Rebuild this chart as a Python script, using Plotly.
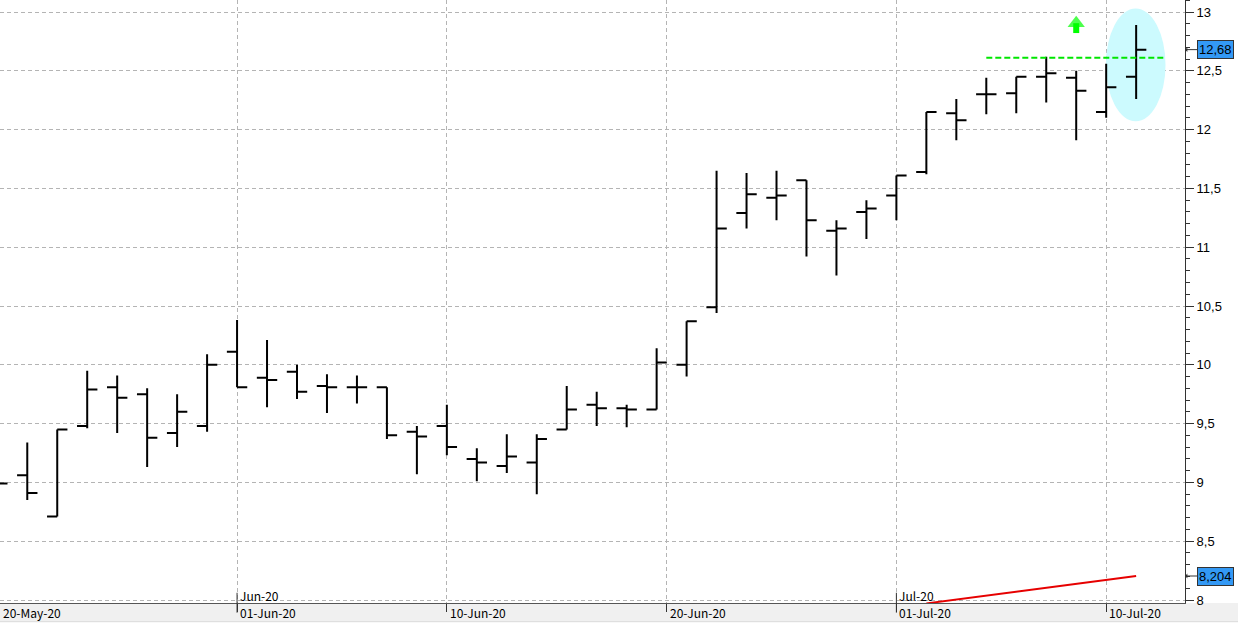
import plotly.graph_objects as go

# trading days (index 0..38), 20-May-20 .. 13-Jul-20
dates = ["20-May", "21-May", "22-May", "25-May", "26-May", "27-May", "28-May", "29-May",
         "01-Jun", "02-Jun", "03-Jun", "04-Jun", "05-Jun", "08-Jun", "09-Jun", "10-Jun",
         "11-Jun", "12-Jun", "15-Jun", "16-Jun", "17-Jun", "18-Jun", "19-Jun", "22-Jun",
         "23-Jun", "24-Jun", "25-Jun", "26-Jun", "29-Jun", "30-Jun", "01-Jul", "02-Jul",
         "03-Jul", "06-Jul", "07-Jul", "08-Jul", "09-Jul", "10-Jul", "13-Jul"]

opens = [9.05, 9.06, 8.71, 9.48, 9.81, 9.75, 9.42, 9.48, 10.11, 9.89, 9.94, 9.82, 9.81,
         9.81, 9.43, 9.48, 9.20, 9.14, 9.17, 9.45, 9.66, 9.63, 9.62, 10.00, 10.49, 11.29,
         11.42, 11.57, 11.14, 11.30, 11.44, 11.64, 12.14, 12.30, 12.31, 12.45, 12.44, 12.15, 12.45]
highs = [9.10, 9.34, 9.45, 9.95, 9.91, 9.80, 9.75, 10.09, 10.38, 10.21, 10.00, 9.92, 9.91,
         9.81, 9.48, 9.66, 9.29, 9.41, 9.41, 9.82, 9.77, 9.66, 10.14, 10.37, 11.65, 11.63,
         11.65, 11.57, 11.23, 11.40, 11.61, 12.15, 12.26, 12.44, 12.45, 12.62, 12.50, 12.56, 12.89]
lows = [8.96, 8.85, 8.71, 9.46, 9.42, 9.13, 9.30, 9.43, 9.81, 9.64, 9.71, 9.59, 9.67,
        9.37, 9.07, 9.23, 9.01, 9.08, 8.90, 9.45, 9.48, 9.47, 9.62, 9.90, 10.44, 11.16,
        11.23, 10.92, 10.76, 11.07, 11.23, 11.62, 11.91, 12.13, 12.14, 12.23, 11.91, 12.10, 12.26]
closes = [8.99, 8.91, 9.45, 9.79, 9.72, 9.38, 9.60, 10.00, 9.81, 9.87, 9.77, 9.81, 9.81,
          9.40, 9.39, 9.30, 9.17, 9.22, 9.37, 9.62, 9.63, 9.62, 10.02, 10.37, 11.16, 11.45,
          11.44, 11.23, 11.16, 11.33, 11.61, 12.15, 12.08, 12.30, 12.45, 12.48, 12.33, 12.36, 12.68]

# date axis: positions (in trading-day index) and labels
tick_pos = [0, 8, 15, 22.333, 30, 37]
tick_text = ["20-May-20", "01-Jun-20", "10-Jun-20", "20-Jun-20", "01-Jul-20", "10-Jul-20"]
month_pos = [8, 30]
month_text = ["Jun-20", "Jul-20"]

# annotations drawn on the chart
resist_x = [33, 39]
resist_y = [12.61, 12.61]
trend_x = [31, 38]
trend_y = [7.971, 8.204]
signal_x = [36, 36]
signal_y = [12.821, 12.905]
focus_x = [36.99, 38.98]
focus_y = [12.07, 13.03]

x = list(range(len(dates)))
FONT_X = "Noto Sans CJK KR"
FONT_Y = "Liberation Sans"

fig = go.Figure()

fig.add_trace(go.Ohlc(
    x=x, open=opens, high=highs, low=lows, close=closes,
    text=dates, tickwidth=0.34,
    increasing=dict(line=dict(color="black", width=2)),
    decreasing=dict(line=dict(color="black", width=2)),
    showlegend=False,
))

fig.add_trace(go.Scatter(
    x=resist_x, y=resist_y, mode="lines",
    line=dict(color="#00E600", width=2, dash="6px,3px"),
    showlegend=False, hoverinfo="skip",
))

fig.add_trace(go.Scatter(
    x=trend_x, y=trend_y, mode="lines",
    line=dict(color="#E60000", width=2),
    showlegend=False, hoverinfo="skip",
))

# green up arrow: stem + triangle head
fig.add_trace(go.Scatter(
    x=signal_x, y=signal_y, mode="lines+markers",
    line=dict(color="#00FF00", width=6),
    marker=dict(symbol=["circle", "triangle-up"], size=[0, 15], color="#00FF00",
                line=dict(width=0)),
    showlegend=False, hoverinfo="skip",
))

# highlight ellipse round the last bar
fig.add_shape(type="circle", xref="x", yref="y",
              x0=focus_x[0], x1=focus_x[1], y0=focus_y[0], y1=focus_y[1],
              fillcolor="#CCFAFE", line_width=0, layer="between")

# bottom band for the date labels
fig.add_shape(type="rect", xref="paper", yref="paper", x0=0, x1=1.05, y0=-0.031, y1=0,
              fillcolor="#F0F0F0", line_width=0, layer="below")
fig.add_shape(type="line", xref="paper", yref="paper", x0=0, x1=1.05, y0=-0.031, y1=-0.031,
              line=dict(color="#DADADA", width=1))

for p, t in zip(tick_pos, tick_text):
    fig.add_annotation(x=max(p, 0.1), y=-0.016, xref="x", yref="paper", text=t,
                       showarrow=False, xanchor="left", yanchor="middle", xshift=1,
                       font=dict(family=FONT_X, size=12, color="black"))

for p, t in zip(month_pos, month_text):
    fig.add_annotation(x=p, y=0.013, xref="x", yref="paper", text=t,
                       showarrow=False, xanchor="left", yanchor="middle", xshift=1,
                       font=dict(family=FONT_X, size=12, color="black"))
    fig.add_shape(type="line", xref="x", yref="paper", x0=p, x1=p, y0=-0.016, y1=0.017,
                  line=dict(color="#333333", width=1))

# value boxes on the price axis
for v in [closes[-1], trend_y[-1]]:
    label = (f"{v:.3f}".rstrip("0")).replace(".", ",")
    fig.add_annotation(x=1, y=v, xref="paper", yref="y", text=label,
                       showarrow=True, arrowhead=1, arrowsize=0.8, arrowwidth=1,
                       arrowcolor="#333333", ax=12, ay=0, xanchor="left",
                       bgcolor="#3399F5", bordercolor="#333333", borderwidth=1, borderpad=1,
                       font=dict(family=FONT_Y, size=13, color="black"))

fig.update_layout(
    width=1238, height=627,
    margin=dict(l=0, r=53, t=0, b=24),
    paper_bgcolor="white", plot_bgcolor="white",
    separators=",.",
    showlegend=False,
    xaxis=dict(
        range=[0.09, 39.63], rangeslider=dict(visible=False),
        tickvals=tick_pos, ticktext=tick_text, showticklabels=False,
        ticks="outside", ticklen=8, tickcolor="#333333",
        showgrid=True, gridcolor="#B4B4B4", griddash="4px,3px", gridwidth=1,
        zeroline=False, showline=True, linecolor="#555555", linewidth=1,
    ),
    yaxis=dict(
        side="right", range=[7.9745, 13.102],
        tickvals=[8, 8.5, 9, 9.5, 10, 10.5, 11, 11.5, 12, 12.5, 13],
        ticks="outside", ticklen=8, tickcolor="#333333",
        minor=dict(dtick=0.1, ticks="outside", ticklen=4, tickcolor="#333333", showgrid=False),
        showgrid=True, gridcolor="#B4B4B4", griddash="4px,3px", gridwidth=1,
        zeroline=False, showline=True, linecolor="#333333", linewidth=1,
        tickfont=dict(family=FONT_Y, size=13, color="black"),
    ),
)

fig.write_html("out.html", config={"displayModeBar": False},
               post_script="document.body.style.margin='0';")
